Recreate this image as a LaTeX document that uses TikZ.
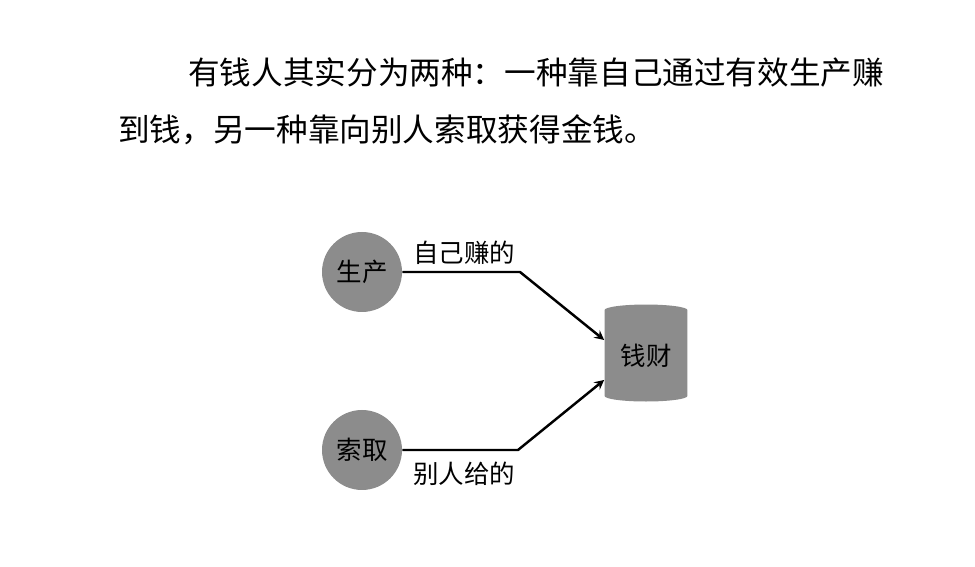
\documentclass[tikz,border=0pt]{standalone}
\usepackage{fontspec}
\newfontfamily\cjk{Noto Sans CJK SC}
\usetikzlibrary{shapes.geometric, calc}

\tikzset{
  source/.style={circle, fill=black!45, minimum size=1.6cm, inner sep=0pt, font=\cjk\fontsize{14.5pt}{16pt}\selectfont},
  store/.style={cylinder, shape border rotate=90, aspect=0.22, fill=black!45,
                minimum width=1.66cm, minimum height=1.94cm, inner sep=0pt,
                font=\cjk\fontsize{14.5pt}{16pt}\selectfont},
  flowlabel/.style={font=\cjk\fontsize{14.5pt}{16pt}\selectfont},
  bodytext/.style={anchor=west, inner sep=0pt, font=\cjk\fontsize{18pt}{20pt}\selectfont},
  flow/.style={->, line width=1.4pt}
}

\begin{document}
\begin{tikzpicture}[x=0.02cm, y=0.02cm, >=stealth]
  \useasboundingbox (0,0) rectangle (975,567);
  % text above the picture
  \node[bodytext] (line1) at (188,495) {有钱人其实分为两种：一种靠自己通过有效生产赚};
  \node[bodytext] (line2) at (118,437) {到钱，另一种靠向别人索取获得金钱。};
  % two sources and the store
  \node[source] (make) at (362,295) {生产};
  \node[source] (take) at (362,117) {索取};
  \node[store] (money) at (646,211) {钱财};
  % bends and arrow ends
  \coordinate (bend1) at (520,295);
  \coordinate (bend2) at (518,117);
  \coordinate (in1) at ($(money.west)+(0,16)$);
  \coordinate (in2) at ($(money.west)+(0,-24)$);
  \draw[flow] (make) -- (bend1) -- (in1);
  \draw[flow] (take) -- (bend2) -- (in2);
  \node[flowlabel] (own) at (464,314) {自己赚的};
  \node[flowlabel] (given) at (464,93) {别人给的};
\end{tikzpicture}
\end{document}
